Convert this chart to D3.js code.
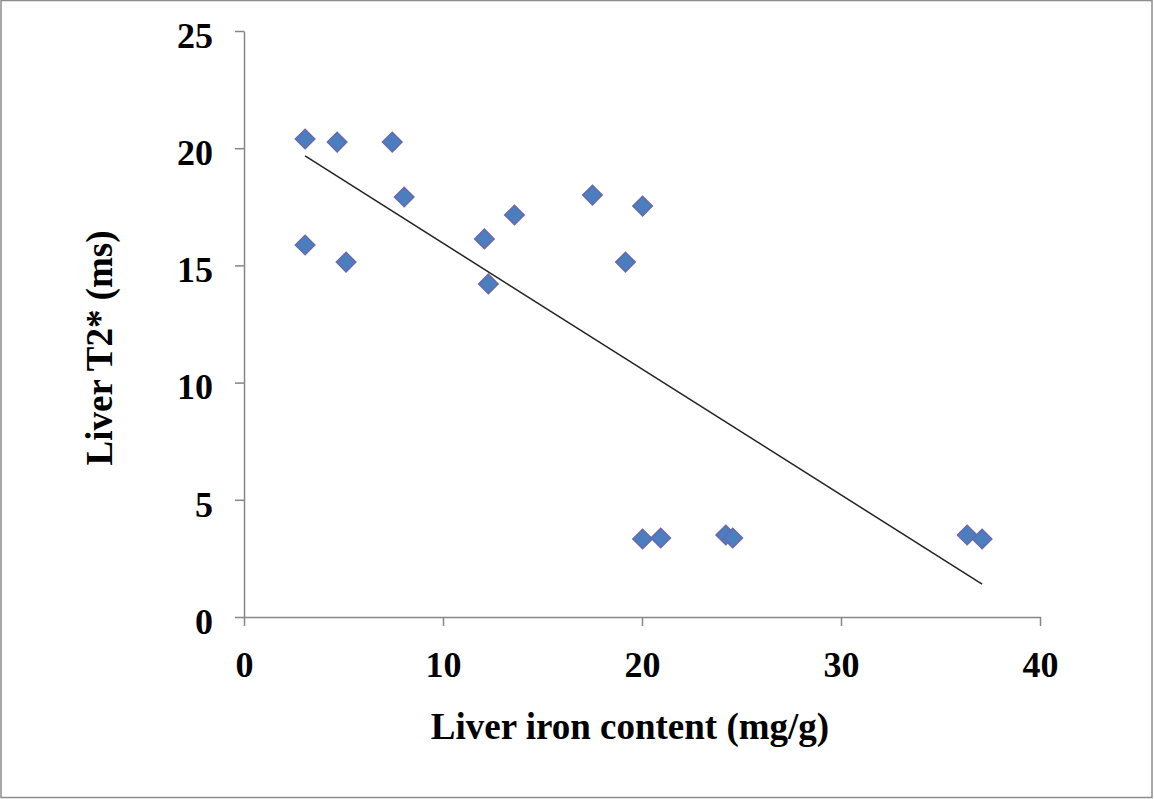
<!DOCTYPE html>
<html>
<head>
<meta charset="utf-8">
<script src="https://cdn.jsdelivr.net/npm/d3@7"></script>
<style>
  body { margin: 0; background: #fff; }
  svg { display: block; }
  text { font-family: "Liberation Serif", "Times New Roman", serif; font-weight: bold; }
</style>
</head>
<body>
<svg id="chart" width="1154" height="799"></svg>
<script>
// liver iron content (mg/g) for each patient
const ironValues = [3.07, 4.68, 7.45, 8.05, 3.07, 5.13, 12.08, 12.28, 13.59, 17.51, 20.03, 19.17, 20.03, 20.94, 24.21, 24.56, 36.34, 37.09];
// liver T2* (ms) for the same patients
const t2Values = [20.39, 20.26, 20.26, 17.92, 15.87, 15.14, 16.13, 14.21, 17.15, 18.0, 17.53, 15.14, 3.33, 3.37, 3.50, 3.37, 3.50, 3.33];

const xTicks = [0, 10, 20, 30, 40];
const yTicks = [0, 5, 10, 15, 20, 25];

const svg = d3.select("#chart");

// outer frame of the picture
svg.append("rect")
  .attr("x", 1).attr("y", 0.5)
  .attr("width", 1151).attr("height", 797)
  .attr("fill", "#fff")
  .attr("stroke", "#8c8c8c")
  .attr("stroke-width", 1.5);

const x = d3.scaleLinear().domain([0, 40]).range([244, 1040]);
const y = d3.scaleLinear().domain([0, 25]).range([617, 31]);

const axisColor = "#868686";

// x axis, ticks hang below
const xAxis = svg.append("g")
  .attr("transform", `translate(0,${y(0)})`)
  .call(d3.axisBottom(x).tickValues(xTicks).tickSize(9).tickPadding(25).tickSizeOuter(0));

// y axis, ticks stick out to the left
const yAxis = svg.append("g")
  .attr("transform", `translate(${x(0)},0)`)
  .call(d3.axisLeft(y).tickValues(yTicks).tickSize(9).tickPadding(22).tickSizeOuter(0));

[xAxis, yAxis].forEach(g => {
  g.select(".domain").attr("stroke", axisColor).attr("stroke-width", 1.5);
  g.selectAll(".tick line").attr("stroke", axisColor).attr("stroke-width", 1.5);
  g.selectAll(".tick text")
    .attr("fill", "#000")
    .attr("font-size", 36)
    .attr("font-family", "Liberation Serif, serif")
    .attr("font-weight", "bold");
});
yAxis.selectAll(".tick text").attr("dy", "0.45em");

// least squares trend line through the points
const mx = d3.mean(ironValues), my = d3.mean(t2Values);
const slope = d3.sum(ironValues, (v, i) => (v - mx) * (t2Values[i] - my)) /
  d3.sum(ironValues, v => (v - mx) ** 2);
const intercept = my - slope * mx;
const [x0, x1] = d3.extent(ironValues);

svg.append("line")
  .attr("x1", x(x0)).attr("y1", y(intercept + slope * x0))
  .attr("x2", x(x1)).attr("y2", y(intercept + slope * x1))
  .attr("stroke", "#222")
  .attr("stroke-width", 1.5);

// diamond markers
const diamond = d3.symbol().type(d3.symbolSquare).size(190);
svg.selectAll("path.pt")
  .data(ironValues.map((v, i) => [v, t2Values[i]]))
  .join("path")
  .attr("class", "pt")
  .attr("d", diamond)
  .attr("transform", d => `translate(${x(d[0])},${y(d[1])}) rotate(45)`)
  .attr("fill", "#4a7ebf")
  .attr("stroke", "#6a68ad")
  .attr("stroke-width", 1.5);

// axis titles
svg.append("text")
  .attr("x", 630).attr("y", 739)
  .attr("text-anchor", "middle")
  .attr("font-size", 37)
  .text("Liver iron content (mg/g)");

svg.append("text")
  .attr("transform", "translate(112,348) rotate(-90)")
  .attr("text-anchor", "middle")
  .attr("font-size", 37)
  .text("Liver T2* (ms)");
</script>
</body>
</html>
